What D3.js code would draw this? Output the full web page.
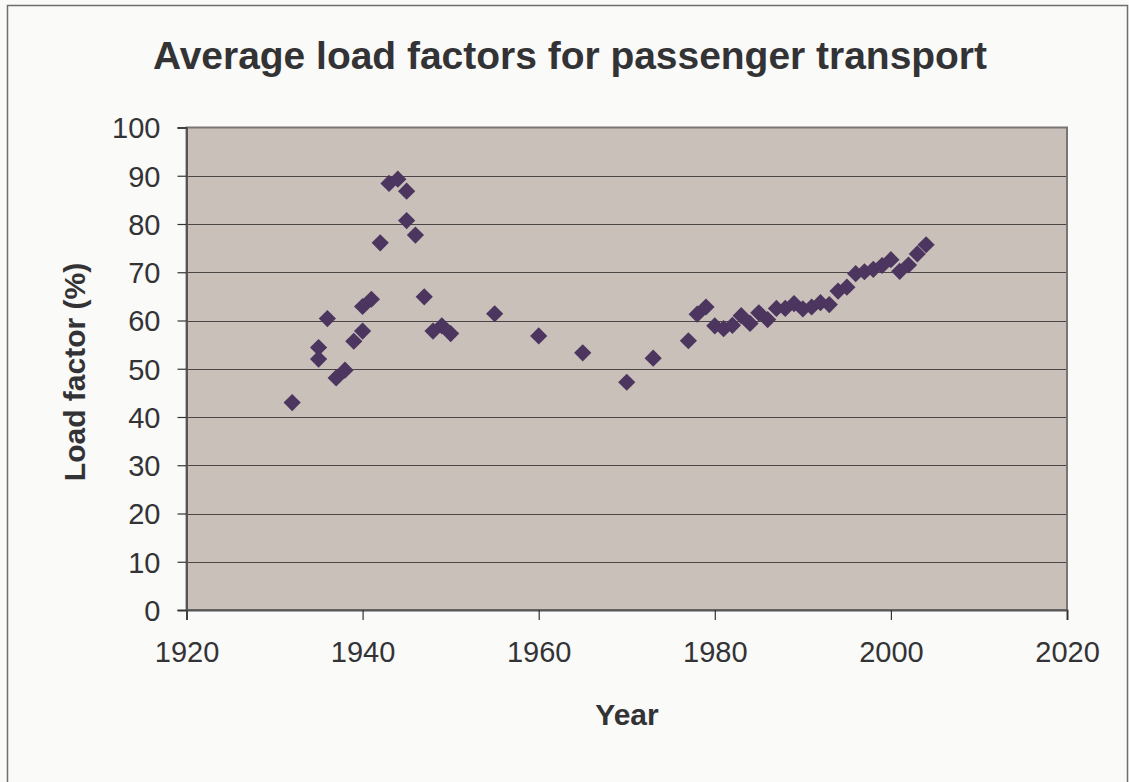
<!DOCTYPE html>
<html>
<head>
<meta charset="utf-8">
<script src="https://cdn.jsdelivr.net/npm/d3@7"></script>
<style>
  body { margin: 0; background: #fafaf8; }
  text { font-family: "Liberation Sans", Arial, sans-serif; fill: #333336; }
</style>
</head>
<body>
<script>
'use strict';

// data
const years = [1932, 1935, 1935, 1936, 1937, 1938, 1939, 1940, 1940, 1941, 1942, 1943, 1944, 1945, 1945,
  1946, 1947, 1948, 1949, 1950, 1955, 1960, 1965, 1970, 1973, 1977, 1978, 1979, 1980, 1981, 1982,
  1983, 1984, 1985, 1986, 1987, 1988, 1989, 1990, 1991, 1992, 1993, 1994, 1995, 1996, 1997, 1998,
  1999, 2000, 2001, 2002, 2003, 2004];
const loadFactors = [43.0, 54.4, 52.0, 60.4, 48.1, 49.7, 55.7, 62.9, 57.8, 64.4, 76.1, 88.4, 89.3, 86.8, 80.7,
  77.7, 64.9, 57.8, 58.9, 57.3, 61.4, 56.8, 53.3, 47.2, 52.2, 55.8, 61.3, 62.8, 58.9, 58.3, 59.0,
  61.0, 59.4, 61.6, 60.2, 62.5, 62.5, 63.5, 62.4, 62.8, 63.7, 63.3, 66.1, 66.9, 69.7, 70.1, 70.6,
  71.4, 72.6, 70.2, 71.5, 73.8, 75.7];
const xTicks = [1920, 1940, 1960, 1980, 2000, 2020];
const yTicks = [0, 10, 20, 30, 40, 50, 60, 70, 80, 90, 100];

const chartTitle = "Average load factors for passenger transport";
const xTitle = "Year";
const yTitle = "Load factor (%)";

const width = 1129, height = 782;
const plot = { left: 186.5, top: 127.5, right: 1067, bottom: 610 };

const svg = d3.select('body')
  .append('svg')
  .attr('width', width)
  .attr('height', height);

// outer frame
svg.append('rect')
  .attr('x', 7.5).attr('y', 5.5)
  .attr('width', 1120).attr('height', 790)
  .attr('fill', '#fafaf8')
  .attr('stroke', '#6e6e6e')
  .attr('stroke-width', 1.5);

const xScale = d3.scaleLinear().domain([1920, 2020]).range([plot.left, plot.right]);
const yScale = d3.scaleLinear().domain([0, 100]).range([plot.bottom, plot.top]);

// plot background
svg.append('rect')
  .attr('x', plot.left).attr('y', plot.top)
  .attr('width', plot.right - plot.left)
  .attr('height', plot.bottom - plot.top)
  .attr('fill', '#c9c0ba');

// horizontal gridlines
svg.append('g')
  .selectAll('line')
  .data(yTicks.slice(1, -1))
  .enter()
  .append('line')
    .attr('x1', plot.left).attr('x2', plot.right)
    .attr('y1', d => Math.round(yScale(d)) + 0.5)
    .attr('y2', d => Math.round(yScale(d)) + 0.5)
    .attr('stroke', '#4a4646')
    .attr('stroke-width', 1.2);

// plot border
svg.append('rect')
  .attr('x', plot.left).attr('y', plot.top)
  .attr('width', plot.right - plot.left)
  .attr('height', plot.bottom - plot.top)
  .attr('fill', 'none')
  .attr('stroke', '#7a7472')
  .attr('stroke-width', 2);

// y axis
const yAxis = d3.axisLeft(yScale).tickValues(yTicks).tickSize(9).tickPadding(17);
const gy = svg.append('g')
  .attr('transform', `translate(${plot.left}, 0)`)
  .call(yAxis);
gy.select('.domain').attr('stroke', '#555').attr('stroke-width', 2);
gy.selectAll('.tick line').attr('stroke', '#333').attr('stroke-width', 1.2);
gy.selectAll('.tick text')
  .style('font-size', '29px')
  .attr('fill', '#333336')
  .attr('dy', '0.36em');

// x axis
const xAxis = d3.axisBottom(xScale).tickValues(xTicks).tickFormat(d3.format('d')).tickSize(10).tickPadding(21);
const gx = svg.append('g')
  .attr('transform', `translate(0, ${plot.bottom})`)
  .call(xAxis);
gx.select('.domain').attr('stroke', '#555').attr('stroke-width', 2);
gx.selectAll('.tick line').attr('stroke', '#333').attr('stroke-width', 1.2);
gx.selectAll('.tick text')
  .style('font-size', '29px')
  .attr('fill', '#333336');

// points as diamonds
const diamond = d3.symbol().type(d3.symbolSquare).size(148);
svg.append('g')
  .selectAll('path')
  .data(years.map((y, i) => ({ year: y, value: loadFactors[i] })))
  .enter()
  .append('path')
    .attr('d', diamond)
    .attr('transform', d => `translate(${xScale(d.year)}, ${yScale(d.value)}) rotate(45)`)
    .attr('fill', '#4c355e');

// titles
svg.append('text')
  .attr('x', 570).attr('y', 69)
  .attr('text-anchor', 'middle')
  .attr('textLength', 834)
  .attr('lengthAdjust', 'spacingAndGlyphs')
  .style('font-size', '38px')
  .style('font-weight', 'bold')
  .text(chartTitle);

svg.append('text')
  .attr('x', 627).attr('y', 725)
  .attr('text-anchor', 'middle')
  .style('font-size', '30px')
  .style('font-weight', 'bold')
  .text(xTitle);

svg.append('text')
  .attr('transform', 'translate(85, 372) rotate(-90)')
  .attr('text-anchor', 'middle')
  .style('font-size', '30px')
  .style('font-weight', 'bold')
  .text(yTitle);
</script>
</body>
</html>
